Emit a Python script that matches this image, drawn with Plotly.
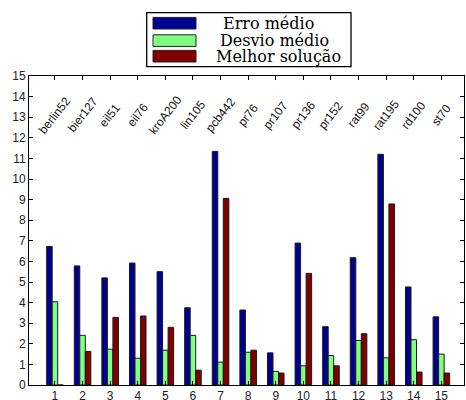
import plotly.graph_objects as go

# ---- data ----
instances = ["berlin52", "bier127", "eil51", "eil76", "kroA200", "lin105", "pcb442",
             "pr76", "pr107", "pr136", "pr152", "rat99", "rat195", "rd100", "st70"]
positions = list(range(1, 16))
series_names = ["Erro médio", "Desvio médio", "Melhor solução"]
erro_medio = [6.73, 5.78, 5.20, 5.92, 5.50, 3.75, 11.34, 3.64, 1.56, 6.89, 2.83, 6.18, 11.20, 4.76, 3.31]
desvio_medio = [4.04, 2.41, 1.74, 1.30, 1.69, 2.41, 1.11, 1.59, 0.66, 0.93, 1.43, 2.16, 1.32, 2.20, 1.50]
melhor_solucao = [0.0, 1.63, 3.28, 3.35, 2.80, 0.72, 9.06, 1.69, 0.58, 5.42, 0.93, 2.49, 8.79, 0.63, 0.58]
series_values = [erro_medio, desvio_medio, melhor_solucao]
colors = ["#00008F", "#80FF80", "#800000"]
y_ticks = list(range(0, 16))

# ---- layout geometry (pixels) ----
W, H = 466, 400
L, R, T, B = 29, 2, 76, 15
pw, ph = W - L - R, H - T - B


def px_x(x):
    return (x - L) / pw


def px_y(y):
    return (H - B - y) / ph


fig = go.Figure()
for name, vals, col in zip(series_names, series_values, colors):
    fig.add_trace(go.Bar(
        x=positions, y=vals, name=name,
        marker=dict(color=col, line=dict(color="#1a1a1a", width=1)),
        showlegend=False,
    ))

annotations = []
for pos, lab in zip(positions, instances):
    annotations.append(dict(
        x=pos, y=13.1, xref="x", yref="y", text=lab, showarrow=False,
        textangle=-52, font=dict(family="Liberation Sans, Arial", size=12, color="#111"),
        xanchor="center", yanchor="middle",
    ))

shapes = []
# legend box
shapes.append(dict(type="rect", xref="paper", yref="paper",
                   x0=px_x(146.7), x1=px_x(351), y0=px_y(66.7), y1=px_y(12.7),
                   line=dict(color="black", width=1.3), fillcolor="white", layer="above"))
row_centers = [23.2, 40.6, 56.2]
text_centers = [268, 274, 278]
for name, col, yc, xc in zip(series_names, colors, row_centers, text_centers):
    shapes.append(dict(type="rect", xref="paper", yref="paper",
                       x0=px_x(153), x1=px_x(196), y0=px_y(yc + 5.8), y1=px_y(yc - 5.8),
                       line=dict(color="#222", width=1), fillcolor=col, layer="above"))
    annotations.append(dict(
        x=px_x(xc), y=px_y(yc), xref="paper", yref="paper", text=name, showarrow=False,
        xanchor="center", yanchor="middle",
        font=dict(family="DejaVu Serif", size=16, color="black"),
    ))

fig.update_layout(
    width=W, height=H, autosize=False,
    margin=dict(l=L, r=R, t=T, b=B, pad=0),
    paper_bgcolor="white", plot_bgcolor="white",
    barmode="group", bargap=0.4, bargroupgap=0,
    annotations=annotations, shapes=shapes,
    font=dict(family="Liberation Sans, Arial", size=12, color="#222"),
)
fig.update_xaxes(
    range=[0.06, 15.82], tickmode="array", tickvals=positions,
    ticktext=[str(p) for p in positions], automargin=False,
    showgrid=False, zeroline=False, showline=True, linecolor="black", linewidth=1,
    mirror="allticks", ticks="inside", ticklen=4, tickcolor="black",
)
fig.update_yaxes(
    range=[0, 15], tickmode="array", tickvals=y_ticks, automargin=False,
    showgrid=False, zeroline=False, showline=True, linecolor="black", linewidth=1,
    mirror="allticks", ticks="inside", ticklen=4, tickcolor="black",
)

fig.write_html(
    "out.html",
    config={"displayModeBar": False},
    post_script="document.body.style.margin='0';document.body.style.overflow='hidden';",
)
